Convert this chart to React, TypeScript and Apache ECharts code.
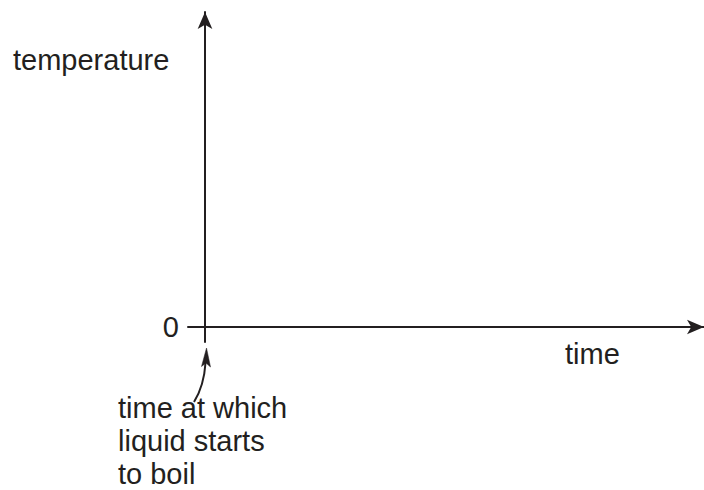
import React, { useEffect, useRef } from "react";
import * as echarts from "echarts";

// Axis extents (units along each axis; 0 is the origin)
const xRange = [-17, 499];
const yRange = [-15, 315];
const yTickInterval = 15;
const yLabelsShown = [0];

const yAxisTitle = "temperature";
const xAxisTitle = "time";
const annotationLines = ["time at which", "liquid starts", "to boil"];

const INK = "#231f20";
const FONT = "'Liberation Sans', Arial, Helvetica, sans-serif";
const FS = 29;

export default function App() {
  const ref = useRef<HTMLDivElement>(null);
  useEffect(() => {
    if (!ref.current) return;
    const chart = echarts.init(ref.current, undefined, { renderer: "svg" });
    chart.setOption({
      animation: false,
      backgroundColor: "#ffffff",
      grid: { left: 188, right: 0, top: 12, bottom: 148, containLabel: false },
      xAxis: {
        type: "value",
        min: xRange[0],
        max: xRange[1],
        axisLine: {
          onZero: true,
          symbol: ["none", "arrow"],
          symbolSize: [11, 17],
          lineStyle: { color: INK, width: 2 },
        },
        axisTick: { show: false },
        axisLabel: { show: false },
        splitLine: { show: false },
      },
      yAxis: {
        type: "value",
        min: yRange[0],
        max: yRange[1],
        interval: yTickInterval,
        axisLine: {
          show: true,
          onZero: true,
          symbol: ["none", "arrow"],
          symbolSize: [11, 17],
          lineStyle: { color: INK, width: 2 },
        },
        axisTick: { show: false },
        splitLine: { show: false },
        axisLabel: {
          show: true,
          margin: 9,
          color: INK,
          fontSize: FS,
          fontFamily: FONT,
          padding: [14, 0, 0, 0],
          formatter: (v: number) => (yLabelsShown.includes(v) ? String(v) : ""),
        },
      },
      series: [{ type: "line", data: [], silent: true }],
      graphic: [
        {
          type: "text",
          left: 13,
          top: 45,
          style: { text: yAxisTitle, fill: INK, fontSize: FS, fontFamily: FONT },
        },
        {
          type: "text",
          left: 565,
          top: 339,
          style: { text: xAxisTitle, fill: INK, fontSize: FS, fontFamily: FONT },
        },
        ...annotationLines.map((t, i) => ({
          type: "text",
          left: 118,
          top: 393 + i * 33,
          style: { text: t, fill: INK, fontSize: FS, fontFamily: FONT },
        })),
        {
          type: "bezierCurve",
          shape: { x1: 194, y1: 402, x2: 205.5, y2: 363, cpx1: 204, cpy1: 386 },
          style: { stroke: INK, lineWidth: 2, fill: null },
        },
        {
          type: "polygon",
          shape: {
            points: [
              [206.5, 348],
              [210.5, 367],
              [206, 363],
              [201.5, 366.5],
            ],
          },
          style: { fill: INK, stroke: INK, lineWidth: 0.5 },
        },
      ],
    });
    return () => chart.dispose();
  }, []);
  return (
    <div
      ref={ref}
      style={{ position: "fixed", left: 0, top: 0, width: 704, height: 490 }}
    />
  );
}
